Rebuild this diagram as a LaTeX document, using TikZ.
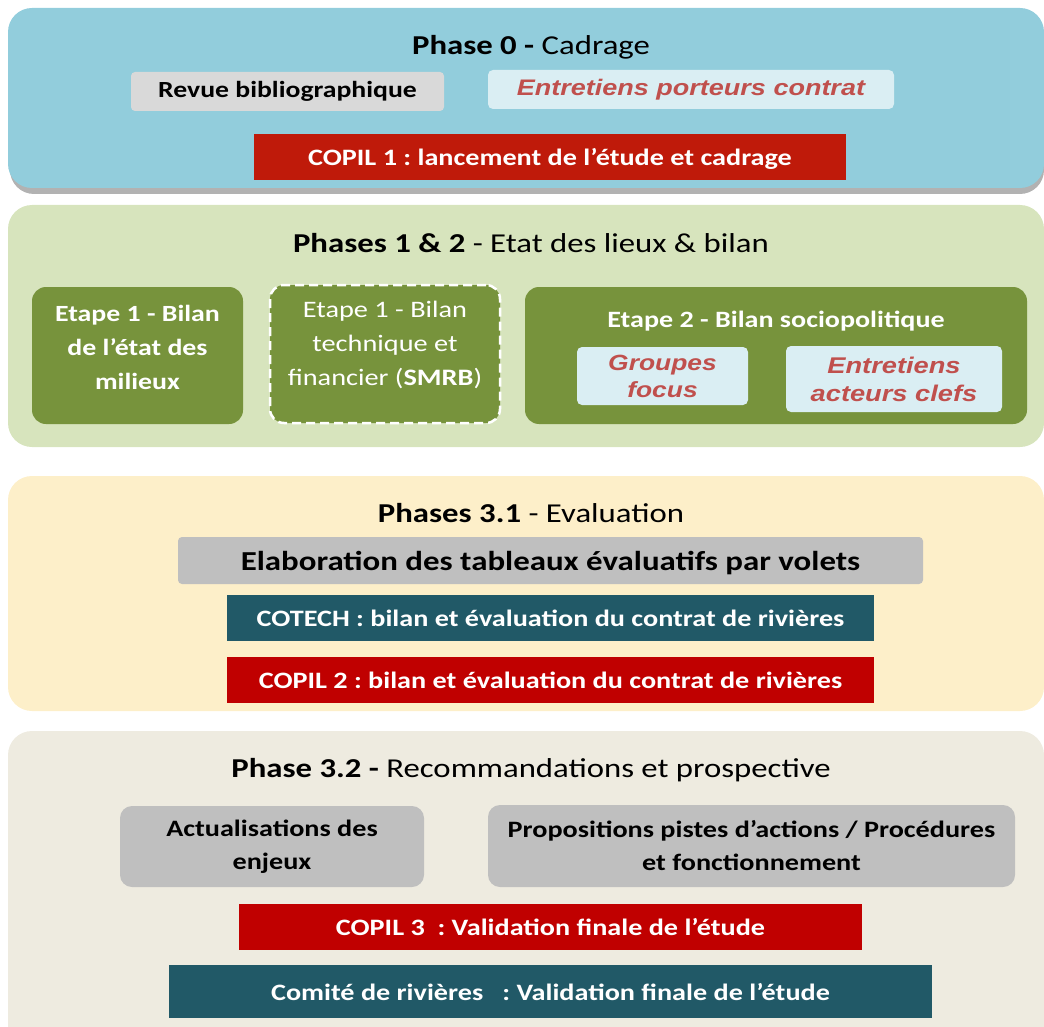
\documentclass[tikz,border=0pt]{standalone}
\usepackage{fontspec}
\setmainfont{Carlito}[FakeStretch=1.2]
\newfontfamily\arialf{Liberation Sans}[FakeStretch=1.2]
\frenchspacing
\definecolor{pblue}{HTML}{92CDDC}
\definecolor{pgreen}{HTML}{D7E4BD}
\definecolor{pyellow}{HTML}{FDEFC9}
\definecolor{pgrey}{HTML}{EEEBE0}
\definecolor{dgreen}{HTML}{77933C}
\definecolor{lgrey}{HTML}{D9D9D9}
\definecolor{mgrey}{HTML}{BFBFBF}
\definecolor{lblue}{HTML}{DAEEF3}
\definecolor{ired}{HTML}{C0504D}
\definecolor{red1}{HTML}{BF1A0A}
\definecolor{red2}{HTML}{C00000}
\definecolor{teal}{HTML}{215967}
\begin{document}
\begin{tikzpicture}[x=1pt,y=-1pt,
  panel/.style={rounded corners=24pt, draw=none},
  ttl/.style={font=\fontsize{27.3}{32}\selectfont, inner sep=0pt},
  gbox/.style={draw=none, rounded corners=4pt, inner sep=0pt, align=center, font=\bfseries\fontsize{23.1}{27}\selectfont},
  ibox/.style={draw=none, fill=lblue, rounded corners=5pt, inner sep=0pt, align=center, text=ired, font=\arialf\bfseries\itshape\fontsize{22.5}{27.5}\selectfont},
  rbox/.style={draw=none, inner sep=0pt, align=center, text=white, text height=17pt, text depth=0pt, font=\bfseries\fontsize{23.5}{28}\selectfont},
  stepbox/.style={fill=dgreen, rounded corners=14pt, inner sep=0pt},
  steptext/.style={inner sep=0pt, align=center, text=white, font=\bfseries\fontsize{23.2}{34}\selectfont}
]
\useasboundingbox (0,0) rectangle (1044,1027);
% panels
\fill[black!30, rounded corners=24pt] (10,14) rectangle (1044,194);
\fill[panel, pblue] (8,8) rectangle (1044,188);
\fill[panel, pgreen] (8,205) rectangle (1044,447);
\fill[panel, pyellow] (8,476) rectangle (1044,711);
\fill[panel, pgrey] (8,731) rectangle (1044,1060);
% Phase 0
\node[ttl] (t0) at (531,47) {\textbf{Phase 0 -} Cadrage};
\node[gbox, fill=lgrey, minimum width=313pt, minimum height=39pt] (rb) at (287.5,91.5) {Revue bibliographique};
\node[ibox, minimum width=406pt, minimum height=39pt] (ep) at (691,89.5) {Entretiens porteurs contrat};
\node[rbox, fill=red1, minimum width=592pt, minimum height=46pt] (c1) at (550,157) {COPIL 1 : lancement de l’étude et cadrage};
% Phases 1 & 2
\node[ttl] (t1) at (531,243) {\textbf{Phases 1 \& 2} - Etat des lieux \& bilan};
\node[stepbox, minimum width=211pt, minimum height=137pt] (e1) at (137.5,355.5) {};
\node[steptext] (e1t) at (137.5,347) {Etape 1 - Bilan\\de l’état des\\milieux};
\node[stepbox, draw=white, dash pattern=on 9pt off 5pt, line width=2.5pt, minimum width=230pt, minimum height=138pt] (e1b) at (385,354) {};
\node[steptext, font=\fontsize{23.6}{34}\selectfont] (e1bt) at (385,345) {Etape 1 - Bilan\\technique et\\financier (\textbf{SMRB})};
\node[stepbox, minimum width=502pt, minimum height=137pt] (e2) at (776,355.5) {};
\node[text=white, font=\bfseries\fontsize{23.4}{28}\selectfont, inner sep=0pt] (e2t) at (776,321) {Etape 2 - Bilan sociopolitique};
\node[ibox, minimum width=171pt, minimum height=58pt, font=\arialf\bfseries\itshape\fontsize{22}{27}\selectfont] (gf) at (662.5,376) {Groupes\\focus};
\node[ibox, minimum width=216pt, minimum height=66pt, font=\arialf\bfseries\itshape\fontsize{22.7}{28}\selectfont] (ea) at (894,379) {Entretiens\\acteurs clefs};
% Phase 3.1
\node[ttl] (t2) at (531,513) {\textbf{Phases 3.1} - Evaluation};
\node[gbox, fill=mgrey, minimum width=745pt, minimum height=47pt, text height=19pt, text depth=0pt, font=\bfseries\fontsize{27.4}{32}\selectfont] (el) at (550.5,560.5) {Elaboration des tableaux évaluatifs par volets};
\node[rbox, fill=teal, minimum width=647pt, minimum height=46pt] (ct) at (550.5,618) {COTECH : bilan et évaluation du contrat de rivières};
\node[rbox, fill=red2, minimum width=647pt, minimum height=46pt] (c2) at (550.5,680) {COPIL 2 : bilan et évaluation du contrat de rivières};
% Phase 3.2
\node[ttl] (t3) at (531,770) {\textbf{Phase 3.2 -} Recommandations et prospective};
\node[gbox, fill=mgrey, rounded corners=12pt, minimum width=304pt, minimum height=81pt, font=\bfseries\fontsize{23.5}{33}\selectfont] (ac) at (272,846.5) {Actualisations des\\enjeux};
\node[gbox, fill=mgrey, rounded corners=12pt, minimum width=527pt, minimum height=82pt, font=\bfseries\fontsize{23.5}{33}\selectfont] (pp) at (751.5,846) {Propositions pistes d’actions / Procédures\\et fonctionnement};
\node[rbox, fill=red2, minimum width=623pt, minimum height=46pt] (c3) at (550.5,927) {COPIL 3 ~: Validation finale de l’étude};
\node[rbox, fill=teal, minimum width=763pt, minimum height=53pt] (cr) at (550.5,991.5) {Comité de rivières ~ : Validation finale de l’étude};
\end{tikzpicture}
\end{document}
